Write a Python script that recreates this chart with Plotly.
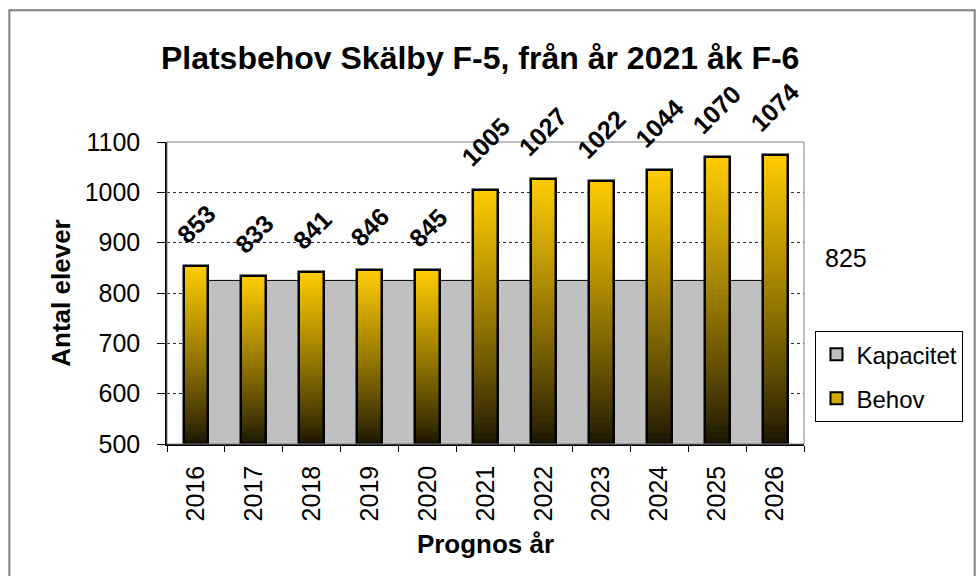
import plotly.graph_objects as go

years = ["2016", "2017", "2018", "2019", "2020", "2021", "2022", "2023", "2024", "2025", "2026"]
behov = [853, 833, 841, 846, 845, 1005, 1027, 1022, 1044, 1070, 1074]
kapacitet = [825, 825, 825, 825, 825, 825, 825, 825, 825, 825, 825]
y_ticks = [500, 600, 700, 800, 900, 1000, 1100]

title_text = "Platsbehov Skälby F-5, från år 2021 åk F-6"
y_title = "Antal elever"
x_title = "Prognos år"

FONT = "Liberation Sans, Arial, sans-serif"
BASE = 500
N = 48
BAR_W = 0.43
TOP = (255, 204, 0)
BOT = (24, 19, 2)
Y_RANGE = [500, 1100]
X_RANGE = [-0.5, len(years) - 0.5]


def grad(t):
    s = t ** 0.85
    return "rgb(%d,%d,%d)" % tuple(round(BOT[k] + (TOP[k] - BOT[k]) * s) for k in range(3))


fig = go.Figure()

# Kapacitet area (main axes, drawn beneath)
fig.add_trace(go.Scatter(
    x=years, y=kapacitet, mode="lines", fill="tozeroy", fillcolor="#C0C0C0",
    line=dict(color="black", width=1), showlegend=False, hoverinfo="skip",
    xaxis="x", yaxis="y",
))
fig.add_trace(go.Bar(
    x=[years[0]], y=[None], name="Kapacitet", legendgroup="k",
    marker=dict(color="#C0C0C0", line=dict(color="black", width=2)), hoverinfo="skip",
    xaxis="x", yaxis="y",
))

# Behov bars (overlay axes, drawn above)
fig.add_trace(go.Bar(
    x=years, y=[v - BASE for v in behov], base=[BASE] * len(behov), width=BAR_W,
    marker=dict(color="#D4A800", line=dict(color="black", width=2)),
    name="Behov", legendgroup="b", hoverinfo="skip", xaxis="x2", yaxis="y2",
))
for i in range(N):
    fig.add_trace(go.Bar(
        x=years,
        y=[(v - BASE) / N for v in behov],
        base=[BASE + i * (v - BASE) / N for v in behov],
        width=BAR_W,
        marker=dict(color=grad((i + 0.5) / N), line=dict(width=0)),
        showlegend=False, hoverinfo="skip", xaxis="x2", yaxis="y2",
    ))
fig.add_trace(go.Bar(
    x=years, y=[v - BASE for v in behov], base=[BASE] * len(behov), width=BAR_W,
    marker=dict(color="rgba(0,0,0,0)", line=dict(color="black", width=2.5)),
    showlegend=False, hoverinfo="skip", xaxis="x2", yaxis="y2",
))

annotations = []
LBL = 25
for idx, v in enumerate(behov):
    txt = str(v)
    L = len(txt) * 0.556 * LBL
    annotations.append(dict(
        x=idx, y=v, xref="x2", yref="y2", text="<b>%s</b>" % txt, showarrow=False,
        textangle=-45, yshift=28 + 0.707 * L / 2,
        font=dict(family=FONT, size=LBL, color="black"),
    ))

annotations.append(dict(
    x=1.066, y=0.616, xref="paper", yref="paper", text=str(kapacitet[-1]),
    showarrow=False, font=dict(family=FONT, size=25, color="black"),
    xanchor="center", yanchor="middle",
))

shapes = [
    dict(type="rect", xref="paper", yref="paper", x0=0, x1=1, y0=0, y1=1,
         line=dict(color="#808080", width=1), layer="above"),
    dict(type="rect", xref="paper", yref="paper", x0=-0.2475, x1=1.268, y0=-0.5, y1=1.436,
         line=dict(color="#808080", width=2), layer="above"),
]

fig.update_layout(
    width=978, height=576,
    margin=dict(l=167, r=174, t=142, b=132, autoexpand=False),
    paper_bgcolor="white", plot_bgcolor="white",
    barmode="overlay", bargap=0,
    font=dict(family=FONT, color="black"),
    title=dict(text="<b>%s</b>" % title_text, x=0.4916, xref="paper", xanchor="center",
               y=1 - 58 / 576, yref="container", yanchor="middle",
               font=dict(family=FONT, size=32, color="black")),
    showlegend=True,
    legend=dict(x=1.018, y=0.374, xanchor="left", yanchor="top",
                bordercolor="#000000", borderwidth=1, bgcolor="white",
                font=dict(family=FONT, size=24, color="black"),
                traceorder="grouped", tracegroupgap=10, itemwidth=30),
    xaxis=dict(
        type="category", range=X_RANGE, showline=True, linecolor="black", linewidth=1.5,
        ticks="outside", tickson="boundaries", ticklen=6, tickcolor="black",
        tickangle=-90, tickfont=dict(family=FONT, size=25, color="black"),
        ticklabelstandoff=10,
        title=dict(text="<b>%s</b>" % x_title, standoff=14,
                   font=dict(family=FONT, size=26, color="black")),
        showgrid=False, zeroline=False, fixedrange=True,
    ),
    yaxis=dict(
        range=Y_RANGE, tickvals=y_ticks, showline=True, linecolor="black", linewidth=1.5,
        ticks="outside", ticklen=8, tickcolor="black",
        tickfont=dict(family=FONT, size=25, color="black"),
        ticklabelstandoff=12,
        showgrid=True, gridcolor="#303030", gridwidth=1, griddash="dot",
        title=dict(text="<b>%s</b>" % y_title, standoff=7,
                   font=dict(family=FONT, size=26, color="black")),
        zeroline=False, fixedrange=True,
    ),
    xaxis2=dict(type="category", range=X_RANGE, overlaying="x", visible=False, fixedrange=True),
    yaxis2=dict(range=Y_RANGE, overlaying="y", visible=False, fixedrange=True),
    annotations=annotations,
    shapes=shapes,
)

fig.write_html("out.html", post_script="document.body.style.margin='0';",
               config={"displayModeBar": False})
